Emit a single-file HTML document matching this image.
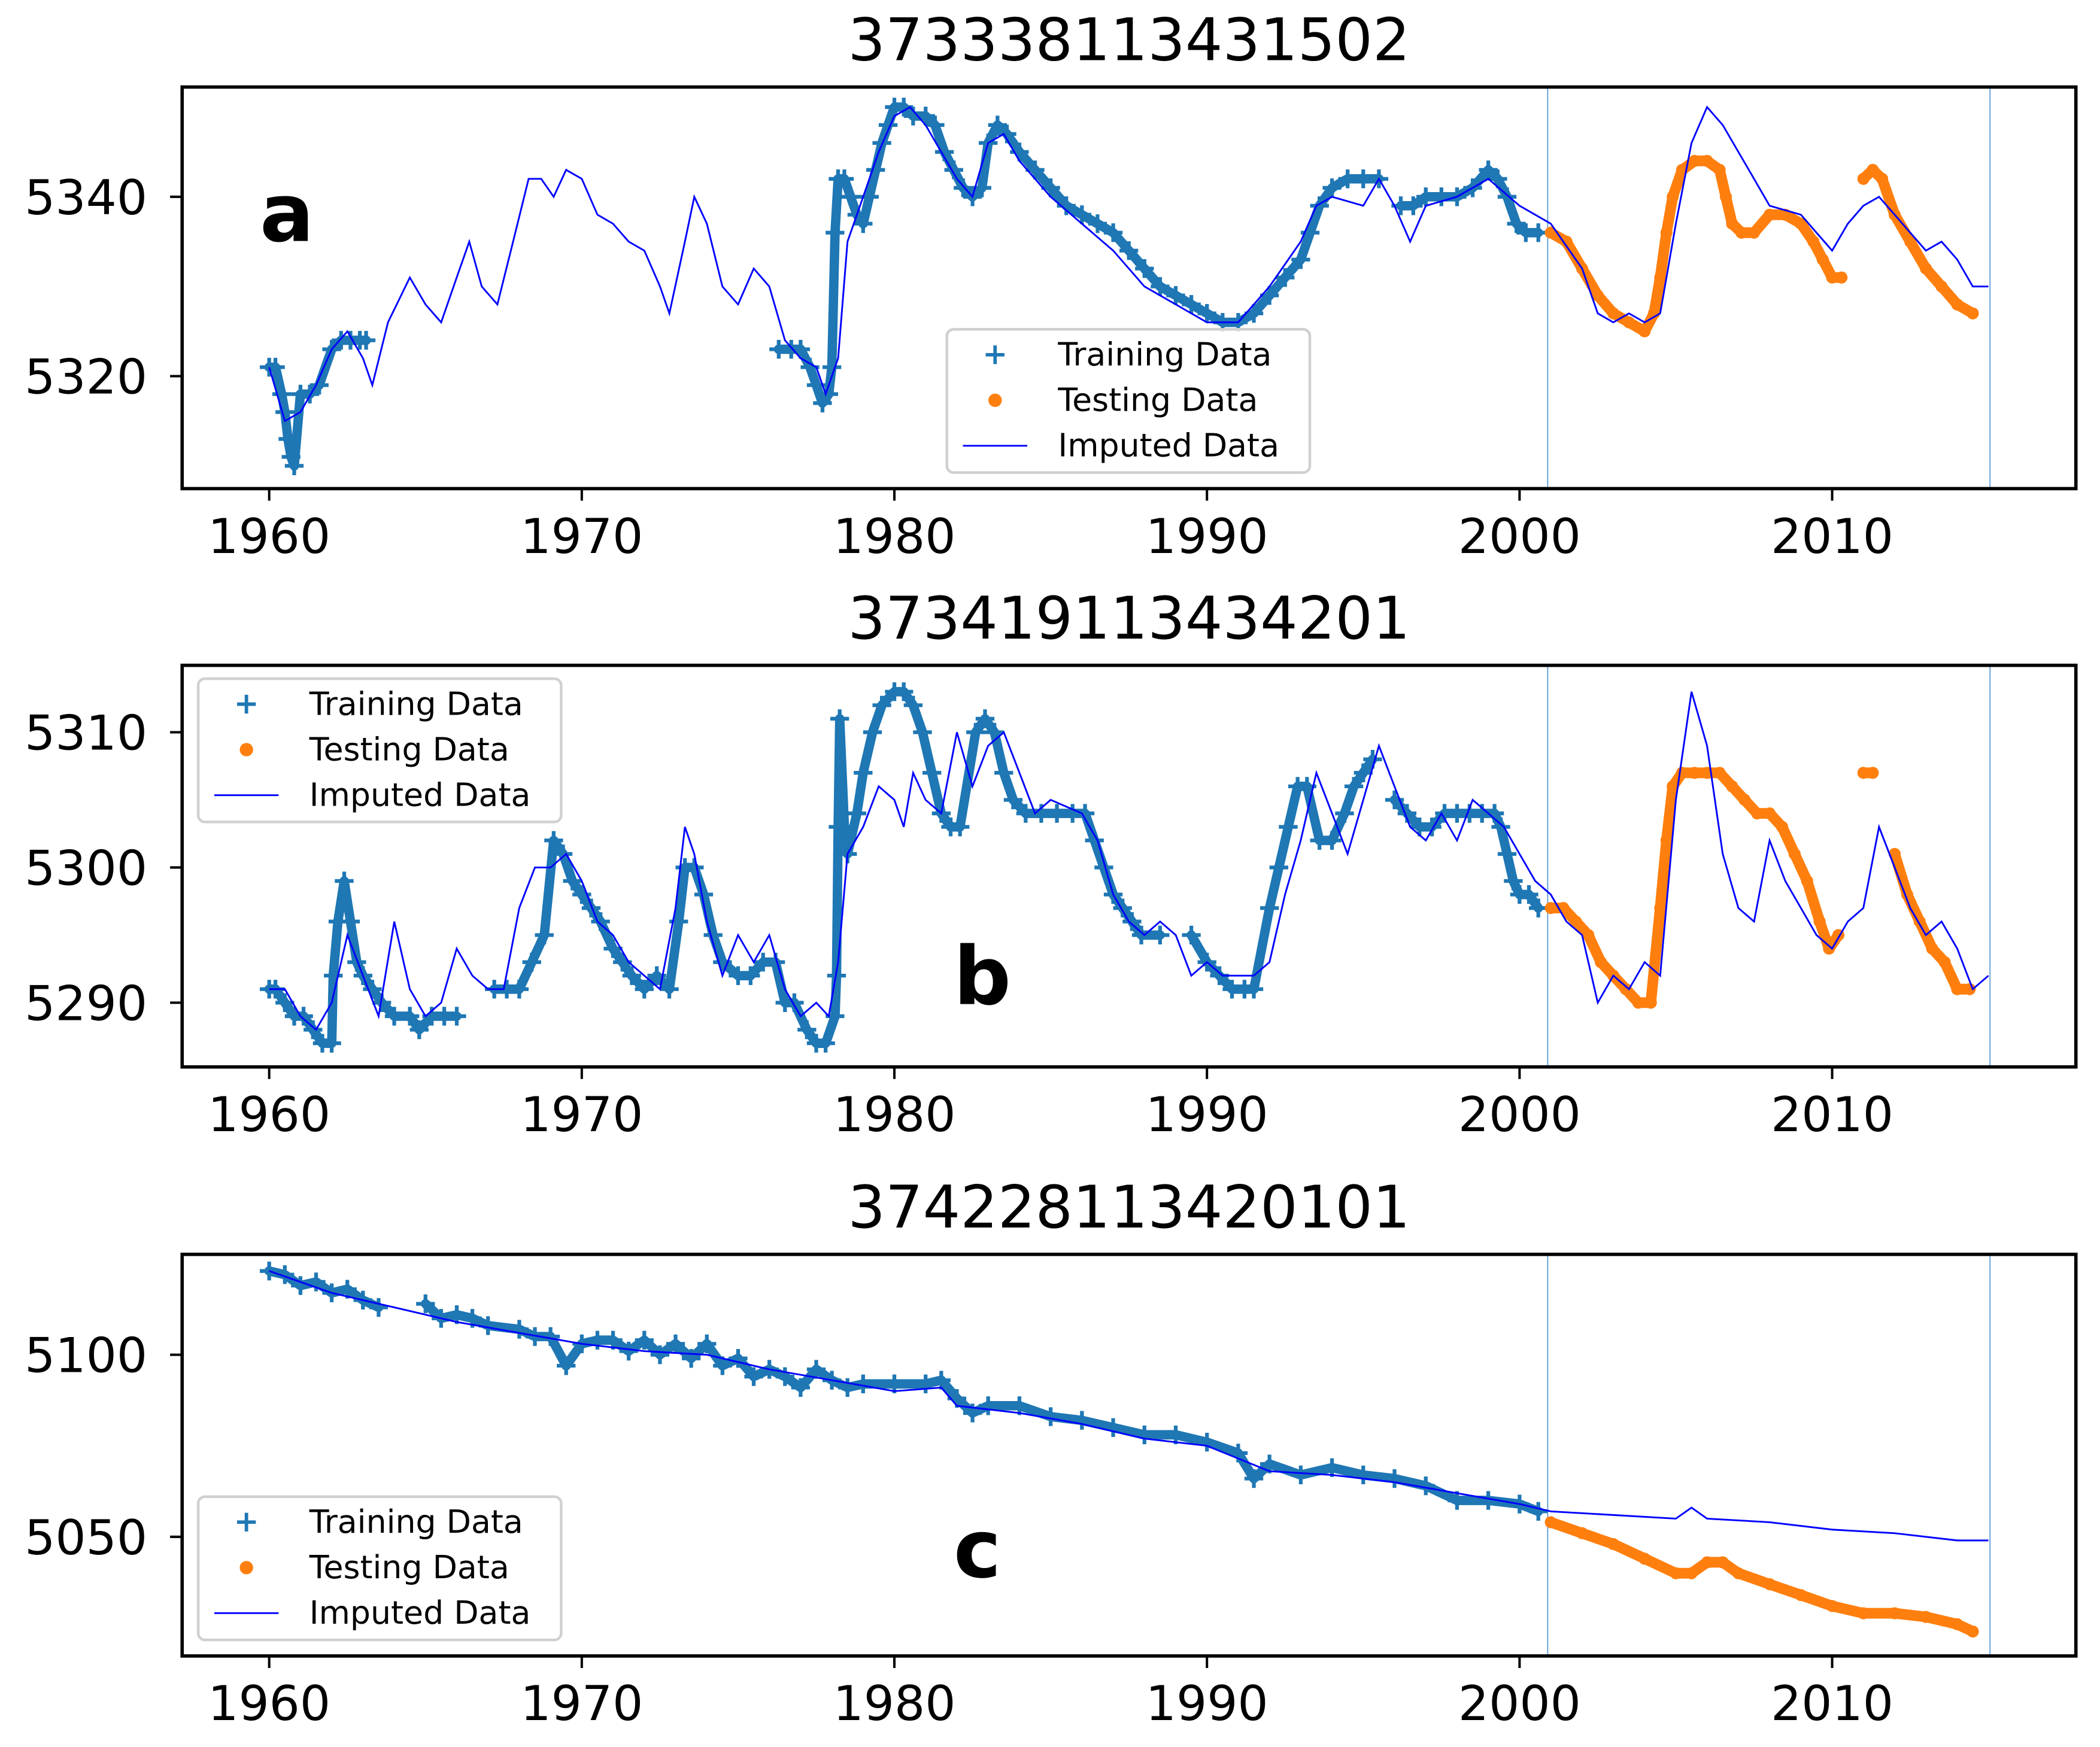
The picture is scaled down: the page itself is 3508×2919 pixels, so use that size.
<!DOCTYPE html>
<html><head><meta charset="utf-8">
<style>
html,body{margin:0;padding:0;background:#fff;}
svg{display:block;}
text{font-family:"DejaVu Sans","Liberation Sans",sans-serif;}
</style></head>
<body>
<svg id="fig" xmlns="http://www.w3.org/2000/svg" width="3508" height="2919" viewBox="0 0 1568 1305" preserveAspectRatio="none"></svg>
<script>
// ---------- data ----------
const xTickLabels = [1960,1970,1980,1990,2000,2010];
const splitYears = [2000.9, 2015.05];
const titles = ["373338113431502","373419113434201","374228113420101"];
const panelLetters = ["a","b","c"];
const yTicksA = [5320,5340];
const yTicksB = [5290,5300,5310];
const yTicksC = [5050,5100];

const imputedA = [[1960,5321],[1960.5,5315],[1961,5316],[1961.5,5319],[1962,5323],[1962.5,5325],[1963,5322],[1963.3,5319],[1963.8,5326],[1964.5,5331],[1965,5328],[1965.5,5326],[1966,5331],[1966.4,5335],[1966.8,5330],[1967.3,5328],[1967.8,5335],[1968.3,5342],[1968.7,5342],[1969.1,5340],[1969.5,5343],[1970,5342],[1970.5,5338],[1971,5337],[1971.5,5335],[1972,5334],[1972.5,5330],[1972.8,5327],[1973.3,5335],[1973.6,5340],[1974,5337],[1974.5,5330],[1975,5328],[1975.5,5332],[1976,5330],[1976.5,5324],[1977,5322],[1977.5,5321],[1977.8,5318],[1978.2,5322],[1978.5,5335],[1979,5340],[1979.5,5345],[1980,5349],[1980.5,5350],[1981,5348],[1981.5,5345],[1982,5342],[1982.5,5340],[1983,5346],[1983.5,5347],[1984,5344],[1985,5340],[1986,5337],[1987,5334],[1988,5330],[1989,5328],[1990,5326],[1991,5326],[1991.5,5328],[1992,5330],[1993,5335],[1993.5,5339],[1994,5340],[1995,5339],[1995.5,5342],[1996,5339],[1996.5,5335],[1997,5339],[1998,5340],[1999,5342],[2000,5339],[2001,5337],[2002,5332],[2002.5,5327],[2003,5326],[2003.5,5327],[2004,5326],[2004.5,5327],[2005,5337],[2005.5,5346],[2006,5350],[2006.5,5348],[2007,5345],[2007.5,5342],[2008,5339],[2009,5338],[2009.5,5336],[2010,5334],[2010.5,5337],[2011,5339],[2011.5,5340],[2012,5338],[2012.5,5336],[2013,5334],[2013.5,5335],[2014,5333],[2014.5,5330],[2015,5330]];
const trainingA = [[1960,5321],[1960.2,5321],[1960.4,5318],[1960.5,5316],[1960.6,5313],[1960.7,5311],[1960.8,5310],[1961,5318],[1961.3,5318],[1961.6,5319],[1962,5323],[1962.3,5324],[1962.6,5324],[1962.9,5324],[1963.1,5324],[1976.3,5323],[1976.7,5323],[1977,5323],[1977.3,5321],[1977.5,5319],[1977.7,5317],[1977.9,5318],[1978,5321],[1978.1,5336],[1978.2,5342],[1978.4,5342],[1978.6,5340],[1978.8,5338],[1979,5337],[1979.2,5340],[1979.4,5343],[1979.6,5346],[1979.8,5348],[1980,5350],[1980.3,5350],[1980.6,5349],[1981,5349],[1981.3,5348],[1981.6,5345],[1981.9,5343],[1982.2,5341],[1982.5,5340],[1982.8,5341],[1983,5346],[1983.3,5348],[1983.6,5347],[1984,5345],[1984.5,5343],[1985,5341],[1985.5,5339],[1986,5338],[1986.5,5337],[1987,5336],[1987.5,5334],[1988,5332],[1988.5,5330],[1989,5329],[1989.5,5328],[1990,5327],[1990.5,5326],[1991,5326],[1991.5,5327],[1992,5329],[1992.5,5331],[1993,5333],[1993.3,5336],[1993.6,5339],[1994,5341],[1994.5,5342],[1995,5342],[1995.5,5342],[1996.2,5339],[1996.6,5339],[1997,5340],[1997.5,5340],[1998,5340],[1998.5,5341],[1999,5343],[1999.3,5342],[1999.6,5340],[1999.9,5337],[2000.2,5336],[2000.6,5336]];
const testingA = [[2001,5336],[2001.5,5335],[2002,5332],[2002.5,5329],[2003,5327],[2003.5,5326],[2004,5325],[2004.3,5327],[2004.5,5331],[2004.7,5336],[2004.9,5340],[2005.2,5343],[2005.6,5344],[2006,5344],[2006.4,5343],[2006.6,5340],[2006.8,5337],[2007.1,5336],[2007.5,5336],[2008,5338],[2008.5,5338],[2009,5337],[2009.4,5335],[2009.7,5333],[2010,5331],[2010.3,5331],[2011,5342],[2011.3,5343],[2011.6,5342],[2012,5338],[2012.5,5335],[2013,5332],[2013.5,5330],[2014,5328],[2014.5,5327]];

const imputedB = [[1960,5291],[1960.5,5291],[1961,5289],[1961.5,5288],[1962,5290],[1962.5,5295],[1963,5292],[1963.5,5289],[1964,5296],[1964.5,5291],[1965,5289],[1965.5,5290],[1966,5294],[1966.5,5292],[1967,5291],[1967.5,5291],[1968,5297],[1968.5,5300],[1969,5300],[1969.5,5301],[1970,5299],[1970.5,5296],[1971,5295],[1971.5,5293],[1972,5292],[1972.5,5291],[1973,5297],[1973.3,5303],[1973.6,5301],[1974,5296],[1974.5,5292],[1975,5295],[1975.5,5293],[1976,5295],[1976.5,5291],[1977,5289],[1977.5,5290],[1977.9,5289],[1978.2,5293],[1978.5,5301],[1979,5303],[1979.5,5306],[1980,5305],[1980.3,5303],[1980.6,5307],[1981,5305],[1981.5,5304],[1982,5310],[1982.5,5306],[1983,5309],[1983.5,5310],[1984,5307],[1984.5,5304],[1985,5305],[1986,5304],[1986.5,5302],[1987,5298],[1987.5,5296],[1988,5295],[1988.5,5296],[1989,5295],[1989.5,5292],[1990,5293],[1990.5,5292],[1991,5292],[1991.5,5292],[1992,5293],[1992.5,5298],[1993,5302],[1993.5,5307],[1994,5304],[1994.5,5301],[1995,5305],[1995.5,5309],[1996,5306],[1996.5,5303],[1997,5302],[1997.5,5304],[1998,5302],[1998.5,5305],[1999,5304],[1999.5,5303],[2000,5301],[2000.5,5299],[2001,5298],[2001.5,5296],[2002,5295],[2002.5,5290],[2003,5292],[2003.5,5291],[2004,5293],[2004.5,5292],[2005,5305],[2005.5,5313],[2006,5309],[2006.5,5301],[2007,5297],[2007.5,5296],[2008,5302],[2008.5,5299],[2009,5297],[2009.5,5295],[2010,5294],[2010.5,5296],[2011,5297],[2011.5,5303],[2012,5300],[2012.5,5297],[2013,5295],[2013.5,5296],[2014,5294],[2014.5,5291],[2015,5292]];
const trainingB = [[1960,5291],[1960.2,5291],[1960.5,5290],[1960.8,5289],[1961.1,5289],[1961.4,5288],[1961.7,5287],[1962,5287],[1962.05,5292],[1962.2,5296],[1962.4,5299],[1962.6,5296],[1962.8,5293],[1963,5292],[1963.3,5291],[1963.6,5290],[1964,5289],[1964.5,5289],[1964.8,5288],[1965.2,5289],[1965.6,5289],[1966,5289],[1967.2,5291],[1967.6,5291],[1968,5291],[1968.4,5293],[1968.8,5295],[1969.1,5302],[1969.4,5301],[1969.7,5299],[1970,5298],[1970.3,5297],[1970.6,5296],[1971,5294],[1971.3,5293],[1971.6,5292],[1972,5291],[1972.4,5292],[1972.8,5291],[1973.1,5296],[1973.3,5300],[1973.6,5300],[1973.9,5298],[1974.2,5295],[1974.5,5293],[1975,5292],[1975.4,5292],[1975.8,5293],[1976.2,5293],[1976.5,5290],[1976.8,5290],[1977.2,5288],[1977.5,5287],[1977.8,5287],[1978.1,5289],[1978.15,5292],[1978.2,5303],[1978.25,5311],[1978.4,5303],[1978.5,5301],[1978.8,5304],[1979,5307],[1979.3,5310],[1979.6,5312],[1980,5313],[1980.3,5313],[1980.6,5312],[1980.9,5310],[1981.2,5307],[1981.5,5304],[1981.8,5303],[1982.1,5303],[1982.6,5310],[1982.9,5311],[1983.2,5310],[1983.5,5307],[1983.8,5305],[1984.2,5304],[1984.7,5304],[1985.2,5304],[1985.7,5304],[1986.1,5304],[1986.4,5302],[1986.7,5300],[1987,5298],[1987.3,5297],[1987.6,5296],[1987.9,5295],[1988.5,5295],[1989.5,5295],[1990,5293],[1990.4,5292],[1990.8,5291],[1991.2,5291],[1991.5,5291],[1992,5297],[1992.3,5300],[1992.6,5303],[1992.9,5306],[1993.2,5306],[1993.6,5302],[1994,5302],[1994.4,5304],[1994.7,5306],[1995,5307],[1995.3,5308],[1996,5305],[1996.4,5304],[1996.8,5303],[1997.2,5303],[1997.6,5304],[1998,5304],[1998.4,5304],[1998.8,5304],[1999.2,5304],[1999.4,5303],[1999.6,5301],[1999.8,5299],[2000,5298],[2000.3,5298],[2000.6,5297]];
const testingB = [[2001,5297],[2001.4,5297],[2001.8,5296],[2002.2,5295],[2002.6,5293],[2003,5292],[2003.4,5291],[2003.8,5290],[2004.2,5290],[2004.5,5297],[2004.7,5302],[2004.9,5306],[2005.2,5307],[2005.6,5307],[2006,5307],[2006.4,5307],[2006.8,5306],[2007.2,5305],[2007.6,5304],[2008,5304],[2008.4,5303],[2008.8,5301],[2009.2,5299],[2009.6,5296],[2009.9,5294],[2010.2,5295],[2011,5307],[2011.3,5307],[2012,5301],[2012.4,5298],[2012.8,5296],[2013.2,5294],[2013.6,5293],[2014,5291],[2014.4,5291]];

const imputedC = [[1960,5123],[1962,5117],[1964,5113],[1966,5109],[1968,5106],[1970,5103],[1972,5101],[1974,5100],[1976,5096],[1978,5093],[1980,5090],[1981.5,5091],[1982,5086],[1984,5084],[1986,5081],[1988,5077],[1990,5075],[1992,5068],[1994,5067],[1996,5065],[1998,5062],[2000,5059],[2001,5057],[2003,5056],[2005,5055],[2005.5,5058],[2006,5055],[2008,5054],[2010,5052],[2012,5051],[2014,5049],[2015,5049]];
const trainingC = [[1960,5123],[1960.5,5122],[1961,5119],[1961.5,5120],[1962,5117],[1962.5,5118],[1963,5115],[1963.5,5113],[1965,5114],[1965.5,5110],[1966,5111],[1966.5,5110],[1967,5108],[1968,5107],[1968.5,5105],[1969,5105],[1969.5,5097],[1970,5103],[1970.5,5104],[1971,5104],[1971.5,5101],[1972,5104],[1972.5,5100],[1973,5103],[1973.5,5099],[1974,5103],[1974.5,5097],[1975,5099],[1975.5,5094],[1976,5096],[1976.5,5094],[1977,5091],[1977.5,5096],[1978,5093],[1978.5,5091],[1979,5092],[1980,5092],[1981,5092],[1981.5,5093],[1982,5088],[1982.5,5084],[1983,5086],[1984,5086],[1985,5083],[1986,5082],[1987,5080],[1988,5078],[1989,5078],[1990,5076],[1991,5073],[1991.5,5066],[1992,5070],[1993,5067],[1994,5069],[1995,5067],[1996,5066],[1997,5064],[1998,5060],[1999,5060],[2000,5059],[2000.6,5057]];
const testingC = [[2001,5054],[2002,5051],[2003,5048],[2004,5044],[2005,5040],[2005.5,5040],[2006,5043],[2006.5,5043],[2007,5040],[2008,5037],[2009,5034],[2010,5031],[2011,5029],[2012,5029],[2013,5028],[2014,5026],[2014.5,5024]];

// ---------- rendering ----------
const NS = "http://www.w3.org/2000/svg";
const svg = document.getElementById('fig');
function mk(tag, attrs, parent){ const e=document.createElementNS(NS,tag); for(const k in attrs) e.setAttribute(k,attrs[k]); (parent||svg).appendChild(e); return e; }
const X0=136, X1=1550;
function xScale(yr){ return 201 + (yr-1960)*(1368-201)/50; }

const panels = [
 {top:65,bottom:365,v1:5320,p1:281,v2:5340,p2:147,ticks:yTicksA,imp:imputedA,tr:trainingA,te:testingA,gap:0.65,legend:[707,246],letter:[194,180],title:titles[0],lt:panelLetters[0]},
 {top:497,bottom:797,v1:5290,p1:749,v2:5310,p2:547,ticks:yTicksB,imp:imputedB,tr:trainingB,te:testingB,gap:0.65,legend:[148,507],letter:[712,750],title:titles[1],lt:panelLetters[1]},
 {top:937,bottom:1237,v1:5050,p1:1148,v2:5100,p2:1012,ticks:yTicksC,imp:imputedC,tr:trainingC,te:testingC,gap:1.1,legend:[148,1118],letter:[712,1178],title:titles[2],lt:panelLetters[2]}
];

panels.forEach((p,i)=>{
  const yS = v => p.p1 + (v-p.v1)*(p.p2-p.p1)/(p.v2-p.v1);
  const g = mk('g',{});
  
  
  const clipId='clip'+i;
  const cp = mk('clipPath',{id:clipId},g); mk('rect',{x:X0,y:p.top,width:X1-X0,height:p.bottom-p.top},cp);

  const t = mk('text',{x:843,y:p.top-20,'font-size':44,'text-anchor':'middle',fill:'#000'},g);
  t.textContent=p.title;
  
  

  splitYears.forEach(yr=>{
    const l = mk('line',{x1:xScale(yr),x2:xScale(yr),y1:p.top,y2:p.bottom,stroke:'#5b9bd5','stroke-width':0.8},g);
    
    
  });

  const data = mk('g',{'clip-path':'url(#'+clipId+')'},g);
  let d='';
  p.tr.forEach((pt,j)=>{ const x=xScale(pt[0]),y=yS(pt[1]); const prev=p.tr[j-1]; d += (prev && pt[0]-prev[0]<=p.gap ? 'L':'M')+x.toFixed(1)+','+y.toFixed(1); });
  const trl = mk('path',{d:d,fill:'none',stroke:'#1f77b4','stroke-width':7,'stroke-linejoin':'round','stroke-linecap':'round'},data);
  
  
  p.tr.forEach(pt=>{
    const x=xScale(pt[0]),y=yS(pt[1]);
    const c = mk('path',{d:`M${x-7},${y}H${x+7}M${x},${y-7}V${y+7}`,stroke:'#1f77b4','stroke-width':2.8},data);
    
    
  });
  let d2='';
  p.te.forEach((pt,j)=>{ const x=xScale(pt[0]),y=yS(pt[1]); const prev=p.te[j-1]; d2 += (prev && pt[0]-prev[0]<=p.gap ? 'L':'M')+x.toFixed(1)+','+y.toFixed(1); });
  const tel = mk('path',{d:d2,fill:'none',stroke:'#ff7f0e','stroke-width':8,'stroke-linejoin':'round','stroke-linecap':'round'},data);
  
  
  p.te.forEach(pt=>{
    const c = mk('circle',{cx:xScale(pt[0]),cy:yS(pt[1]),r:4.5,fill:'#ff7f0e'},data);
    
    
  });
  const imp = mk('polyline',{points:p.imp.map(pt=>xScale(pt[0]).toFixed(1)+','+yS(pt[1]).toFixed(1)).join(' '),fill:'none',stroke:'#0000ff','stroke-width':1.3},data);
  
  

  const fr = mk('rect',{x:X0,y:p.top,width:X1-X0,height:p.bottom-p.top,fill:'none',stroke:'#000','stroke-width':2.5},g);
  
  

  xTickLabels.forEach(v=>{
    const x=xScale(v);
    mk('line',{x1:x,x2:x,y1:p.bottom,y2:p.bottom+9,stroke:'#000','stroke-width':1.8},g);
    const tl = mk('text',{x:x,y:p.bottom+48,'font-size':36,'text-anchor':'middle',fill:'#000'},g);
    tl.textContent=v;
    
    
  });
  p.ticks.forEach(v=>{
    const y=yS(v);
    mk('line',{x1:X0-9,x2:X0,y1:y,y2:y,stroke:'#000','stroke-width':1.8},g);
    const tl = mk('text',{x:X0-26,y:y+13,'font-size':36,'text-anchor':'end',fill:'#000'},g);
    tl.textContent=v;
    
    
  });

  const lt = mk('text',{x:p.letter[0],y:p.letter[1],'font-size':60,'font-weight':'bold',fill:'#000','font-family':'Liberation Sans, sans-serif'},g);
  lt.textContent=p.lt;
  
  

  const [lx,ly]=p.legend;
  const lg = mk('g',{},g);
  
  
  mk('rect',{x:lx,y:ly,width:271,height:107,rx:5,fill:'#fff','fill-opacity':0.85,stroke:'#d0d0d0','stroke-width':2},lg);
  const labels=['Training Data','Testing Data','Imputed Data'];
  labels.forEach((lab,k)=>{
    const cy = ly+19+k*34;
    const mx = lx+36;
    if(k===0) mk('path',{d:`M${mx-7},${cy}H${mx+7}M${mx},${cy-7}V${cy+7}`,stroke:'#1f77b4','stroke-width':2.6},lg);
    if(k===1) mk('circle',{cx:mx,cy:cy,r:5,fill:'#ff7f0e'},lg);
    if(k===2) mk('line',{x1:mx-24,x2:mx+24,y1:cy,y2:cy,stroke:'#0000ff','stroke-width':1.3},lg);
    const tx = mk('text',{x:lx+83,y:cy+8,'font-size':24,fill:'#000'},lg);
    tx.textContent=lab;
    
    
  });
});
</script>
</body></html>
